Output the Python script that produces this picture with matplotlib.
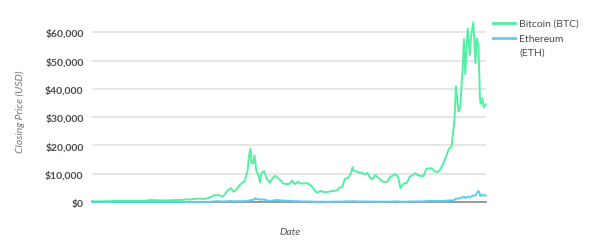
import matplotlib
matplotlib.use("Agg")
import matplotlib.pyplot as plt
import pandas as pd
from matplotlib.lines import Line2D
from matplotlib.ticker import FuncFormatter

dates = (
    ["2015-08-07", "2015-08-15", "2015-09-01", "2015-09-15", "2015-10-01", "2015-10-15",
     "2015-11-01", "2015-11-15", "2015-12-01", "2015-12-15"]
    + [f"2016-{m:02d}-{d:02d}" for m in range(1, 13) for d in (1, 15)]
    + [f"2017-{m:02d}-{d:02d}" for m in range(1, 12) for d in (1, 15)]
    + ["2017-12-01", "2017-12-08", "2017-12-17", "2017-12-22"]
    + ["2018-01-01", "2018-01-07", "2018-01-13", "2018-01-17", "2018-02-01", "2018-02-06",
       "2018-02-15"]
    + [f"2018-{m:02d}-{d:02d}" for m in range(3, 13) for d in (1, 15)]
    + ["2019-01-01", "2019-01-15", "2019-02-01", "2019-02-15", "2019-03-01", "2019-03-15",
       "2019-04-01", "2019-04-15", "2019-05-01", "2019-05-15", "2019-06-01", "2019-06-15",
       "2019-06-26", "2019-07-01", "2019-07-15", "2019-08-01", "2019-08-15", "2019-09-01",
       "2019-09-15", "2019-10-01", "2019-10-15", "2019-10-26", "2019-11-01", "2019-11-15",
       "2019-12-01", "2019-12-15"]
    + ["2020-01-01", "2020-01-15", "2020-02-01", "2020-02-15", "2020-03-01", "2020-03-12",
       "2020-03-15"]
    + [f"2020-{m:02d}-{d:02d}" for m in range(4, 13) for d in (1, 15)]
    + ["2021-01-01", "2021-01-08", "2021-01-15", "2021-01-22", "2021-02-01", "2021-02-15",
       "2021-02-21", "2021-02-28", "2021-03-13", "2021-03-25", "2021-04-01", "2021-04-13",
       "2021-04-25", "2021-05-01", "2021-05-10", "2021-05-15", "2021-05-19", "2021-05-23",
       "2021-06-01", "2021-06-08", "2021-06-20"]
)

btc = [
    280, 260, 228, 230, 237, 255, 325, 320, 360, 450,
    434, 375, 373, 400, 433, 415, 416, 430, 450, 457, 537, 690,
    676, 665, 606, 567, 572, 607, 613, 638, 731, 711, 753, 780,
    998, 822, 989, 1008, 1222, 1254, 1079, 1180, 1421, 1808, 2407, 2443,
    2434, 1929, 2718, 4177, 4892, 3637, 4403, 5680, 6767, 7315,
    10975, 16000, 19000, 13831,
    13657, 16477, 14200, 11200, 9170, 7000, 10233,
    10951, 8260, 6844, 8355, 9240, 8504, 7541, 6500, 6385, 6357,
    7600, 6300, 7190, 6520, 6590, 6650, 6377, 5600, 4200, 3250,
    3943, 3630, 3487, 3620, 3817, 3925, 4150, 5040, 5350, 8200, 8560, 9800,
    12300, 11100, 10850, 10400, 10300, 9760, 10300, 8300, 8200, 9550, 9260, 8500,
    7400, 7100,
    7200, 8800, 9390, 9900, 8600, 4970, 5400,
    6640, 6640, 8860, 9380, 10200, 9450, 9230, 9130, 11800, 11900, 11900, 10800,
    10620, 11500, 13740, 15950, 18800, 19400,
    29400, 40800, 36800, 32000, 33500, 48700, 57500, 45200, 61200, 52000, 58900,
    63500, 49000, 57800, 55800, 46400, 37000, 34700, 36700, 33500, 34500,
]

eth = [
    2.8, 1.5, 1.35, 0.9, 0.7, 0.55, 1.0, 0.9, 0.87, 0.95,
    0.94, 1.2, 2.4, 5.3, 7.9, 13.0, 11.6, 8.2, 8.8, 12.5, 14.0, 20.6,
    12.4, 11.7, 10.5, 11.2, 12.1, 12.0, 13.2, 11.9, 10.8, 10.0, 8.5, 7.8,
    8.2, 9.9, 10.8, 12.9, 17.3, 28.6, 50, 48, 77, 91, 220, 345,
    260, 196, 225, 286, 388, 255, 302, 336, 289, 330,
    464, 450, 720, 690,
    772, 1153, 1397, 1030, 1035, 790, 934,
    872, 614, 379, 511, 673, 708, 579, 518, 453, 434,
    421, 278, 296, 221, 229, 221, 200, 180, 118, 84,
    140, 120, 107, 122, 136, 137, 141, 161, 160, 250, 265, 269,
    336, 293, 228, 218, 187, 172, 198, 180, 180, 180, 183, 180,
    151, 142,
    130, 165, 183, 264, 218, 111, 124,
    135, 153, 213, 203, 247, 232, 230, 238, 387, 438, 477, 365,
    360, 378, 396, 447, 588, 590,
    730, 1220, 1170, 1230, 1370, 1780, 1935, 1420, 1920, 1590, 1970,
    2300, 2320, 2950, 3900, 3640, 2430, 2100, 2630, 2510, 2250,
]

series_names = ["Bitcoin (BTC)", "Ethereum", "(ETH)"]
y_ticks = [0, 10000, 20000, 30000, 40000, 50000, 60000]

x = pd.to_datetime(dates)

plt.rcParams["font.family"] = ["Lato", "DejaVu Sans"]
fig = plt.figure(figsize=(6.05, 2.51), dpi=100)
ax = fig.add_axes([0.152, 0.191, 0.651, 0.733])

green = "#52f0a2"
blue = "#5ecdf3"

ax.plot(x, btc, color=green, lw=1.4, clip_on=False, zorder=3, solid_joinstyle="round")
ax.plot(x, eth, color=blue, lw=1.4, clip_on=False, zorder=4, solid_joinstyle="round")

ax.set_xlim(x[0], x[-1])
ax.set_ylim(0, 65000)
ax.set_yticks(y_ticks)
ax.yaxis.set_major_formatter(FuncFormatter(lambda v, p: f"${v:,.0f}"))
ax.grid(axis="y", color="#e6e6e6", lw=1.4, zorder=0)
ax.set_xticks([])
for s in ["top", "right", "left"]:
    ax.spines[s].set_visible(False)
ax.spines["bottom"].set_color("#8a8a8a")
ax.spines["bottom"].set_linewidth(1.2)
ax.spines["bottom"].set_zorder(2)
ax.tick_params(axis="y", length=0, pad=6, labelsize=7.5, labelcolor="#4a4a4a")
for t in ax.get_yticklabels():
    t.set_fontweight("bold")

fig.text(20 / 605, 1 - 112 / 251, "Closing Price (USD)", fontsize=7.5, style="italic",
         color="#777777", rotation=90, ha="center", va="center")
fig.text(0.479, 0.075, "Date", fontsize=7.5, style="italic", color="#555555",
         ha="center", va="center")

# legend
for col, yy in [(green, 1 - 24 / 251), (blue, 1 - 39 / 251)]:
    fig.add_artist(Line2D([493 / 605, 515 / 605], [yy, yy], color=col, lw=2.0,
                          transform=fig.transFigure))
for name, yy in zip(series_names, [1 - 24 / 251, 1 - 39 / 251, 1 - 53 / 251]):
    fig.text(519 / 605, yy, name, fontsize=7.5, color="#4a4a4a", ha="left", va="center")

fig.savefig("out.png", dpi=100)
